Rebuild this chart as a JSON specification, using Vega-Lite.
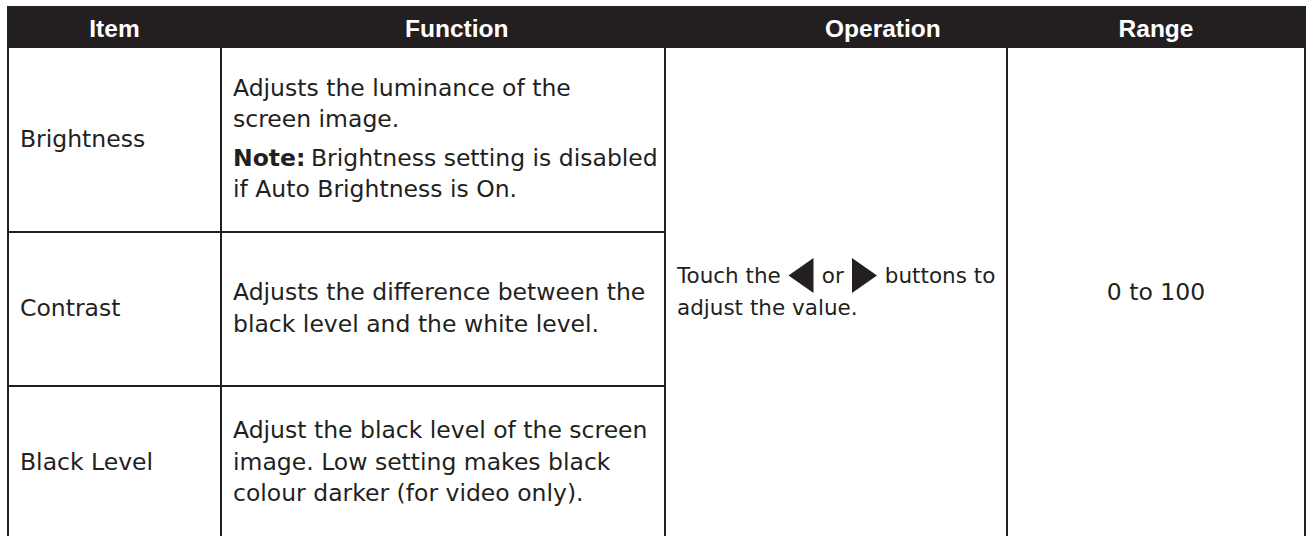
{
  "$schema": "https://vega.github.io/schema/vega-lite/v6.json",
  "width": 1309,
  "height": 536,
  "padding": 0,
  "autosize": {"type": "none"},
  "config": {
    "view": {"stroke": null},
    "text": {"font": "DejaVu Sans", "fontSize": 23.5, "color": "#231f20", "lineBreak": "\n", "lineHeight": 31.5, "baseline": "middle", "align": "left", "dx": 12}
  },
  "resolve": {"scale": {"x": "independent", "y": "independent"}},
  "layer": [
    {
      "data": {"values": [{"column": "Item", "row": "Header", "text": "Item"}]},
      "encoding": {
        "x": {"field": "column", "type": "nominal", "axis": null, "scale": {"type": "band", "range": [8, 221], "paddingInner": 0, "paddingOuter": 0}},
        "y": {"field": "row", "type": "nominal", "axis": null, "scale": {"type": "band", "range": [7, 47], "paddingInner": 0, "paddingOuter": 0}}
      },
      "layer": [
        {"mark": {"type": "rect", "fill": "#231f20", "stroke": "#231f20", "strokeWidth": 2}},
        {"mark": {"type": "text", "font": "Liberation Sans", "fontSize": 24.5, "fontWeight": "bold", "color": "#ffffff", "align": "center", "dx": 0, "dy": 3},
         "encoding": {"text": {"field": "text"}}}
      ]
    },
    {
      "data": {"values": [{"column": "Function", "row": "Header", "text": "Function"}]},
      "encoding": {
        "x": {"field": "column", "type": "nominal", "axis": null, "scale": {"type": "band", "range": [221, 665], "paddingInner": 0, "paddingOuter": 0}},
        "y": {"field": "row", "type": "nominal", "axis": null, "scale": {"type": "band", "range": [7, 47], "paddingInner": 0, "paddingOuter": 0}}
      },
      "layer": [
        {"mark": {"type": "rect", "fill": "#231f20", "stroke": "#231f20", "strokeWidth": 2}},
        {"mark": {"type": "text", "font": "Liberation Sans", "fontSize": 24.5, "fontWeight": "bold", "color": "#ffffff", "align": "center", "dx": 0, "dy": 3},
         "encoding": {
           "x": {"field": "column", "type": "nominal", "axis": null, "bandPosition": 0.531, "scale": {"type": "band", "range": [221, 665], "paddingInner": 0, "paddingOuter": 0}},
           "text": {"field": "text"}}}
      ]
    },
    {
      "data": {"values": [{"column": "Operation", "row": "Header", "text": "Operation"}]},
      "encoding": {
        "x": {"field": "column", "type": "nominal", "axis": null, "scale": {"type": "band", "range": [665, 1007], "paddingInner": 0, "paddingOuter": 0}},
        "y": {"field": "row", "type": "nominal", "axis": null, "scale": {"type": "band", "range": [7, 47], "paddingInner": 0, "paddingOuter": 0}}
      },
      "layer": [
        {"mark": {"type": "rect", "fill": "#231f20", "stroke": "#231f20", "strokeWidth": 2}},
        {"mark": {"type": "text", "font": "Liberation Sans", "fontSize": 24.5, "fontWeight": "bold", "color": "#ffffff", "align": "center", "dx": 0, "dy": 3},
         "encoding": {
           "x": {"field": "column", "type": "nominal", "axis": null, "bandPosition": 0.637, "scale": {"type": "band", "range": [665, 1007], "paddingInner": 0, "paddingOuter": 0}},
           "text": {"field": "text"}}}
      ]
    },
    {
      "data": {"values": [{"column": "Range", "row": "Header", "text": "Range"}]},
      "encoding": {
        "x": {"field": "column", "type": "nominal", "axis": null, "scale": {"type": "band", "range": [1007, 1305], "paddingInner": 0, "paddingOuter": 0}},
        "y": {"field": "row", "type": "nominal", "axis": null, "scale": {"type": "band", "range": [7, 47], "paddingInner": 0, "paddingOuter": 0}}
      },
      "layer": [
        {"mark": {"type": "rect", "fill": "#231f20", "stroke": "#231f20", "strokeWidth": 2}},
        {"mark": {"type": "text", "font": "Liberation Sans", "fontSize": 24.5, "fontWeight": "bold", "color": "#ffffff", "align": "center", "dx": 0, "dy": 3},
         "encoding": {"text": {"field": "text"}}}
      ]
    },
    {
      "data": {"values": [{"column": "Item", "row": "Brightness", "text": "Brightness"}]},
      "encoding": {
        "x": {"field": "column", "type": "nominal", "axis": null, "scale": {"type": "band", "range": [8, 221], "paddingInner": 0, "paddingOuter": 0}},
        "y": {"field": "row", "type": "nominal", "axis": null, "scale": {"type": "band", "range": [47, 232], "paddingInner": 0, "paddingOuter": 0}}
      },
      "layer": [
        {"mark": {"type": "rect", "filled": false, "stroke": "#231f20", "strokeWidth": 2}},
        {"mark": {"type": "text"},
         "encoding": {
           "x": {"field": "column", "type": "nominal", "axis": null, "bandPosition": 0, "scale": {"type": "band", "range": [8, 221], "paddingInner": 0, "paddingOuter": 0}},
           "text": {"field": "text"}}}
      ]
    },
    {
      "data": {"values": [{"column": "Item", "row": "Contrast", "text": "Contrast"}]},
      "encoding": {
        "x": {"field": "column", "type": "nominal", "axis": null, "scale": {"type": "band", "range": [8, 221], "paddingInner": 0, "paddingOuter": 0}},
        "y": {"field": "row", "type": "nominal", "axis": null, "scale": {"type": "band", "range": [232, 386], "paddingInner": 0, "paddingOuter": 0}}
      },
      "layer": [
        {"mark": {"type": "rect", "filled": false, "stroke": "#231f20", "strokeWidth": 2}},
        {"mark": {"type": "text"},
         "encoding": {
           "x": {"field": "column", "type": "nominal", "axis": null, "bandPosition": 0, "scale": {"type": "band", "range": [8, 221], "paddingInner": 0, "paddingOuter": 0}},
           "text": {"field": "text"}}}
      ]
    },
    {
      "data": {"values": [{"column": "Item", "row": "Black Level", "text": "Black Level"}]},
      "encoding": {
        "x": {"field": "column", "type": "nominal", "axis": null, "scale": {"type": "band", "range": [8, 221], "paddingInner": 0, "paddingOuter": 0}},
        "y": {"field": "row", "type": "nominal", "axis": null, "scale": {"type": "band", "range": [386, 539], "paddingInner": 0, "paddingOuter": 0}}
      },
      "layer": [
        {"mark": {"type": "rect", "filled": false, "stroke": "#231f20", "strokeWidth": 2}},
        {"mark": {"type": "text"},
         "encoding": {
           "x": {"field": "column", "type": "nominal", "axis": null, "bandPosition": 0, "scale": {"type": "band", "range": [8, 221], "paddingInner": 0, "paddingOuter": 0}},
           "text": {"field": "text"}}}
      ]
    },
    {
      "data": {"values": [{"column": "Function", "row": "Brightness", "text": "Adjusts the luminance of the\nscreen image.", "label": "Note:", "note": "Brightness setting is disabled", "note2": "if Auto Brightness is On."}]},
      "encoding": {
        "x": {"field": "column", "type": "nominal", "axis": null, "scale": {"type": "band", "range": [221, 665], "paddingInner": 0, "paddingOuter": 0}},
        "y": {"field": "row", "type": "nominal", "axis": null, "scale": {"type": "band", "range": [47, 232], "paddingInner": 0, "paddingOuter": 0}}
      },
      "layer": [
        {"mark": {"type": "rect", "filled": false, "stroke": "#231f20", "strokeWidth": 2}},
        {"mark": {"type": "text"},
         "encoding": {
           "x": {"field": "column", "type": "nominal", "axis": null, "bandPosition": 0, "scale": {"type": "band", "range": [221, 665], "paddingInner": 0, "paddingOuter": 0}},
           "y": {"field": "row", "type": "nominal", "axis": null, "bandPosition": 0.2257, "scale": {"type": "band", "range": [47, 232], "paddingInner": 0, "paddingOuter": 0}},
           "text": {"field": "text"}}},
        {"mark": {"type": "text", "fontWeight": "bold"},
         "encoding": {
           "x": {"field": "column", "type": "nominal", "axis": null, "bandPosition": 0, "scale": {"type": "band", "range": [221, 665], "paddingInner": 0, "paddingOuter": 0}},
           "y": {"field": "row", "type": "nominal", "axis": null, "bandPosition": 0.6041, "scale": {"type": "band", "range": [47, 232], "paddingInner": 0, "paddingOuter": 0}},
           "text": {"field": "label"}}},
        {"mark": {"type": "text", "dx": 90},
         "encoding": {
           "x": {"field": "column", "type": "nominal", "axis": null, "bandPosition": 0, "scale": {"type": "band", "range": [221, 665], "paddingInner": 0, "paddingOuter": 0}},
           "y": {"field": "row", "type": "nominal", "axis": null, "bandPosition": 0.6041, "scale": {"type": "band", "range": [47, 232], "paddingInner": 0, "paddingOuter": 0}},
           "text": {"field": "note"}}},
        {"mark": {"type": "text"},
         "encoding": {
           "x": {"field": "column", "type": "nominal", "axis": null, "bandPosition": 0, "scale": {"type": "band", "range": [221, 665], "paddingInner": 0, "paddingOuter": 0}},
           "y": {"field": "row", "type": "nominal", "axis": null, "bandPosition": 0.7743, "scale": {"type": "band", "range": [47, 232], "paddingInner": 0, "paddingOuter": 0}},
           "text": {"field": "note2"}}}
      ]
    },
    {
      "data": {"values": [{"column": "Function", "row": "Contrast", "text": "Adjusts the difference between the\nblack level and the white level."}]},
      "encoding": {
        "x": {"field": "column", "type": "nominal", "axis": null, "scale": {"type": "band", "range": [221, 665], "paddingInner": 0, "paddingOuter": 0}},
        "y": {"field": "row", "type": "nominal", "axis": null, "scale": {"type": "band", "range": [232, 386], "paddingInner": 0, "paddingOuter": 0}}
      },
      "layer": [
        {"mark": {"type": "rect", "filled": false, "stroke": "#231f20", "strokeWidth": 2}},
        {"mark": {"type": "text", "dy": -15.75},
         "encoding": {
           "x": {"field": "column", "type": "nominal", "axis": null, "bandPosition": 0, "scale": {"type": "band", "range": [221, 665], "paddingInner": 0, "paddingOuter": 0}},
           "text": {"field": "text"}}}
      ]
    },
    {
      "data": {"values": [{"column": "Function", "row": "Black Level", "text": "Adjust the black level of the screen\nimage. Low setting makes black\ncolour darker (for video only)."}]},
      "encoding": {
        "x": {"field": "column", "type": "nominal", "axis": null, "scale": {"type": "band", "range": [221, 665], "paddingInner": 0, "paddingOuter": 0}},
        "y": {"field": "row", "type": "nominal", "axis": null, "scale": {"type": "band", "range": [386, 539], "paddingInner": 0, "paddingOuter": 0}}
      },
      "layer": [
        {"mark": {"type": "rect", "filled": false, "stroke": "#231f20", "strokeWidth": 2}},
        {"mark": {"type": "text", "dy": -31.5},
         "encoding": {
           "x": {"field": "column", "type": "nominal", "axis": null, "bandPosition": 0, "scale": {"type": "band", "range": [221, 665], "paddingInner": 0, "paddingOuter": 0}},
           "text": {"field": "text"}}}
      ]
    },
    {
      "data": {"values": [{"column": "Operation", "row": "Brightness to Black Level", "text": "Touch the\u00a0\u00a0\u00a0\u00a0\u00a0\u00a0or\u00a0\u00a0\u00a0\u00a0\u00a0\u00a0buttons to\nadjust the value."}]},
      "encoding": {
        "x": {"field": "column", "type": "nominal", "axis": null, "scale": {"type": "band", "range": [665, 1007], "paddingInner": 0, "paddingOuter": 0}},
        "y": {"field": "row", "type": "nominal", "axis": null, "scale": {"type": "band", "range": [47, 539], "paddingInner": 0, "paddingOuter": 0}}
      },
      "layer": [
        {"mark": {"type": "rect", "filled": false, "stroke": "#231f20", "strokeWidth": 2}},
        {"mark": {"type": "text", "fontSize": 21.5, "dy": -15.75},
         "encoding": {
           "x": {"field": "column", "type": "nominal", "axis": null, "bandPosition": 0, "scale": {"type": "band", "range": [665, 1007], "paddingInner": 0, "paddingOuter": 0}},
           "text": {"field": "text"}}},
        {"mark": {"type": "point", "shape": "M0.714,-1L-0.714,0L0.714,1Z", "size": 1225, "filled": true, "fill": "#231f20", "opacity": 1, "strokeWidth": 0},
         "encoding": {
           "x": {"field": "column", "type": "nominal", "axis": null, "bandPosition": 0.3977, "scale": {"type": "band", "range": [665, 1007], "paddingInner": 0, "paddingOuter": 0}},
           "y": {"field": "row", "type": "nominal", "axis": null, "bandPosition": 0.4644, "scale": {"type": "band", "range": [47, 539], "paddingInner": 0, "paddingOuter": 0}}}},
        {"mark": {"type": "point", "shape": "M-0.714,-1L0.714,0L-0.714,1Z", "size": 1225, "filled": true, "fill": "#231f20", "opacity": 1, "strokeWidth": 0},
         "encoding": {
           "x": {"field": "column", "type": "nominal", "axis": null, "bandPosition": 0.5833, "scale": {"type": "band", "range": [665, 1007], "paddingInner": 0, "paddingOuter": 0}},
           "y": {"field": "row", "type": "nominal", "axis": null, "bandPosition": 0.4644, "scale": {"type": "band", "range": [47, 539], "paddingInner": 0, "paddingOuter": 0}}}}
      ]
    },
    {
      "data": {"values": [{"column": "Range", "row": "Brightness to Black Level", "text": "0 to 100"}]},
      "encoding": {
        "x": {"field": "column", "type": "nominal", "axis": null, "scale": {"type": "band", "range": [1007, 1305], "paddingInner": 0, "paddingOuter": 0}},
        "y": {"field": "row", "type": "nominal", "axis": null, "scale": {"type": "band", "range": [47, 539], "paddingInner": 0, "paddingOuter": 0}}
      },
      "layer": [
        {"mark": {"type": "rect", "filled": false, "stroke": "#231f20", "strokeWidth": 2}},
        {"mark": {"type": "text", "align": "center", "dx": 0},
         "encoding": {"text": {"field": "text"}}}
      ]
    }
  ]
}
